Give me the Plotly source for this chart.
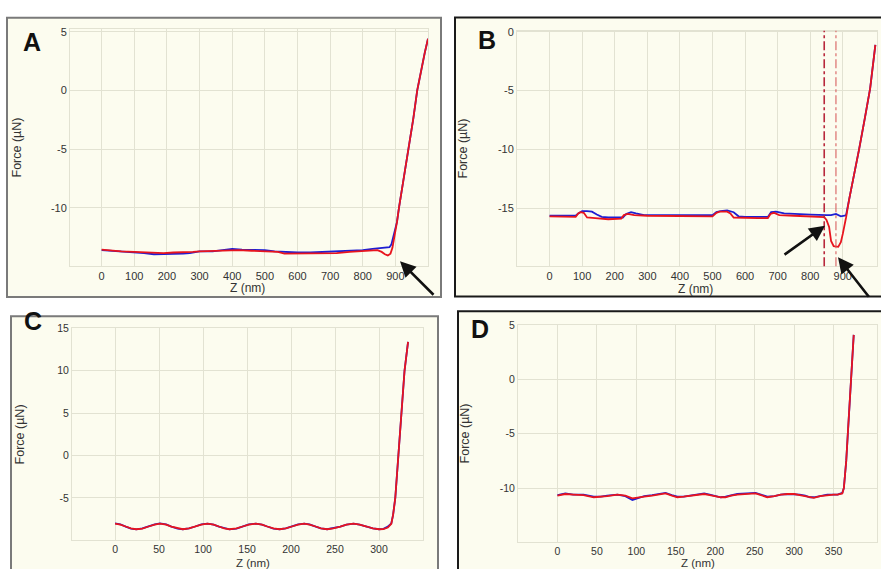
import plotly.graph_objects as go

# ---------------- DATA ----------------
# Panel A
A_z_app = [0, 30, 60, 100, 130, 160, 190, 220, 250, 270, 300, 340, 380, 400, 430, 470, 500, 530, 560, 600,
           640, 680, 720, 760, 800, 830, 850, 870, 882, 888, 895, 905, 911, 925, 941, 955, 967, 980, 990, 1000]
A_f_app = [-13.6, -13.65, -13.7, -13.8, -13.85, -13.95, -13.95, -13.95, -13.9, -13.85, -13.7, -13.7, -13.6, -13.5,
           -13.55, -13.55, -13.6, -13.7, -13.75, -13.8, -13.8, -13.75, -13.75, -13.7, -13.6, -13.5, -13.45, -13.4,
           -13.35, -13.1, -12.4, -11.2, -10.0, -7.6, -5.0, -2.4, 0.0, 1.9, 3.2, 4.4]
A_z_ret = [0, 30, 60, 100, 130, 160, 190, 220, 250, 280, 300, 340, 380, 420, 460, 500, 540, 560, 600, 640,
           680, 720, 760, 800, 830, 845, 858, 868, 877, 885, 891, 898, 905, 911, 925, 941, 955, 967, 980, 990, 1000]
A_f_ret = [-13.55, -13.65, -13.7, -13.75, -13.8, -13.8, -13.85, -13.8, -13.8, -13.75, -13.7, -13.65, -13.65, -13.6,
           -13.65, -13.7, -13.75, -13.9, -13.9, -13.9, -13.9, -13.85, -13.75, -13.65, -13.6, -13.6, -13.75, -13.95,
           -14.05, -13.9, -13.4, -12.4, -11.2, -10.0, -7.6, -5.0, -2.4, 0.0, 1.9, 3.2, 4.4]

# Panel B
B_z_app = [0, 40, 80, 88, 100, 115, 130, 145, 160, 180, 200, 225, 235, 250, 265, 290, 350, 420, 500, 512, 525,
           545, 565, 580, 600, 640, 670, 680, 695, 720, 750, 800, 850, 864, 879, 894, 905, 910, 920, 935, 950,
           968, 984, 1000]
B_f_app = [-15.65, -15.65, -15.65, -15.45, -15.25, -15.25, -15.3, -15.55, -15.75, -15.8, -15.8, -15.8, -15.5,
           -15.35, -15.45, -15.6, -15.6, -15.6, -15.6, -15.35, -15.25, -15.2, -15.35, -15.7, -15.75, -15.75,
           -15.75, -15.35, -15.3, -15.45, -15.5, -15.55, -15.6, -15.6, -15.5, -15.7, -15.65, -15.6, -14.2, -12.2,
           -10.0, -7.3, -4.8, -1.1]
B_z_ret = [0, 40, 80, 88, 95, 105, 115, 140, 180, 220, 228, 240, 260, 300, 400, 500, 512, 522, 545, 555, 565,
           600, 640, 670, 678, 688, 705, 750, 800, 843, 850, 858, 864, 872, 886, 894, 900, 905, 910, 920, 935,
           950, 968, 984, 1000]
B_f_ret = [-15.7, -15.7, -15.75, -15.45, -15.35, -15.4, -15.8, -15.85, -15.95, -15.9, -15.6, -15.5, -15.6,
           -15.65, -15.65, -15.7, -15.4, -15.3, -15.3, -15.45, -15.8, -15.85, -15.85, -15.85, -15.5, -15.4,
           -15.6, -15.65, -15.7, -15.76, -16.0, -16.6, -17.8, -18.25, -18.3, -17.9, -17.2, -16.6, -15.8, -14.2,
           -12.2, -10.0, -7.3, -4.8, -1.1]
B_marks = [843, 879]

# Panel C
C_z = [0, 6, 12, 18, 24, 31, 38, 45, 51, 58, 64, 71, 77, 84, 91, 98, 105, 112, 118, 124, 130, 138, 145, 152,
       160, 167, 173, 180, 187, 194, 201, 208, 215, 221, 228, 234, 241, 248, 256, 263, 271, 278, 286, 293, 300,
       305, 310, 314, 316, 318.5, 322, 325.5, 329, 333]
C_f_app = [-8.0, -8.12, -8.4, -8.62, -8.72, -8.6, -8.36, -8.12, -8.02, -8.14, -8.4, -8.62, -8.7, -8.6, -8.38,
           -8.12, -8.03, -8.15, -8.4, -8.6, -8.72, -8.62, -8.36, -8.14, -8.04, -8.16, -8.38, -8.62, -8.7, -8.6,
           -8.36, -8.14, -8.03, -8.14, -8.4, -8.6, -8.7, -8.6, -8.4, -8.16, -8.05, -8.15, -8.38, -8.6, -8.7,
           -8.65, -8.4, -8.0, -7.0, -5.0, 0.0, 5.0, 10.0, 13.4]
C_f_ret = [-8.05, -8.15, -8.38, -8.6, -8.7, -8.62, -8.38, -8.15, -8.05, -8.15, -8.38, -8.6, -8.7, -8.6, -8.38,
           -8.15, -8.05, -8.15, -8.38, -8.6, -8.7, -8.6, -8.38, -8.15, -8.05, -8.15, -8.38, -8.6, -8.7, -8.6,
           -8.38, -8.15, -8.05, -8.15, -8.38, -8.6, -8.7, -8.6, -8.38, -8.15, -8.05, -8.15, -8.38, -8.6, -8.7,
           -8.68, -8.5, -8.05, -7.0, -5.0, 0.0, 5.0, 10.0, 13.4]

# Panel D
D_z = [0, 10, 20, 33, 46, 55, 63, 76, 86, 95, 103, 110, 120, 127, 137, 145, 152, 160, 169, 178, 186, 193, 200,
       207, 213, 220, 228, 240, 251, 258, 266, 275, 283, 292, 300, 307, 314, 320, 325, 333, 342, 350, 355, 361,
       363, 366, 368, 370, 372, 374, 375.5]
D_f_app = [-10.65, -10.5, -10.6, -10.6, -10.8, -10.8, -10.7, -10.6, -10.75, -11.1, -10.9, -10.75, -10.65, -10.55,
           -10.45, -10.65, -10.8, -10.8, -10.7, -10.6, -10.5, -10.6, -10.7, -10.85, -10.8, -10.7, -10.55, -10.5,
           -10.45, -10.6, -10.8, -10.75, -10.6, -10.55, -10.55, -10.6, -10.7, -10.85, -10.85, -10.7, -10.6,
           -10.6, -10.6, -10.45, -10.0, -7.5, -5.0, -2.5, 0.0, 2.5, 4.1]
D_f_ret = [-10.7, -10.55, -10.6, -10.65, -10.85, -10.8, -10.75, -10.6, -10.7, -10.95, -10.9, -10.8, -10.7, -10.6,
           -10.5, -10.7, -10.85, -10.8, -10.7, -10.6, -10.55, -10.65, -10.75, -10.85, -10.85, -10.7, -10.6,
           -10.55, -10.5, -10.65, -10.85, -10.75, -10.6, -10.55, -10.55, -10.65, -10.75, -10.85, -10.9, -10.75,
           -10.65, -10.6, -10.6, -10.5, -10.0, -7.5, -5.0, -2.5, 0.0, 2.5, 4.1]

# Tick labels
A_xticks = [0, 100, 200, 300, 400, 500, 600, 700, 800, 900]
A_yticks = [5, 0, -5, -10]
B_xticks = [0, 100, 200, 300, 400, 500, 600, 700, 800, 900]
B_yticks = [0, -5, -10, -15]
C_xticks = [0, 50, 100, 150, 200, 250, 300]
C_yticks = [15, 10, 5, 0, -5]
D_xticks = [0, 50, 100, 150, 200, 250, 300, 350]
D_yticks = [5, 0, -5, -10]

# ---------------- LAYOUT HELPERS ----------------
W, H = 881, 569
def fx(p): return p / W
def fy(p): return 1 - p / H

BG = "#FCFCEF"
GRID = "#E2E2D2"
BLUE = "#1E1ED2"
RED = "#E8141E"

panels = [
    ("1", 70, 428, 23, 263, [-97, 1000], [-14.97, 5.25], A_xticks, A_yticks, 11),
    ("2", 517, 877, 25, 263, [-100, 1005], [-19.95, 0.1], B_xticks, B_yticks, 11),
    ("3", 72, 423, 325, 539.5, [-49, 350], [-9.95, 15.1], C_xticks, C_yticks, 10.5),
    ("4", 518, 877, 322, 541.5, [-50, 405], [-14.95, 5.05], D_xticks, D_yticks, 10.5),
]

fig = go.Figure()
data = [
    ((A_z_app, A_f_app), (A_z_ret, A_f_ret)),
    ((B_z_app, B_f_app), (B_z_ret, B_f_ret)),
    ((C_z, C_f_app), (C_z, C_f_ret)),
    ((D_z, D_f_app), (D_z, D_f_ret)),
]

layout = dict(width=W, height=H, margin=dict(l=0, r=0, t=0, b=0), paper_bgcolor="white",
              plot_bgcolor=BG, showlegend=False)

for (name, l, r, t, b, xr, yr, xt, yt, fs), (app, ret) in zip(panels, data):
    tf = dict(family="Liberation Sans, Arial", size=fs, color="#333")
    xa = "xaxis" if name == "1" else "xaxis" + name
    ya = "yaxis" if name == "1" else "yaxis" + name
    xs = "x" if name == "1" else "x" + name
    ys = "y" if name == "1" else "y" + name
    layout[xa] = dict(domain=[fx(l), fx(r)], range=xr, anchor=ys, tickvals=xt, ticktext=[str(v) for v in xt],
                      showgrid=True, gridcolor=GRID, gridwidth=1, zeroline=False, showline=True,
                      linecolor=GRID, mirror=True, ticks="", tickfont=tf, fixedrange=True)
    layout[ya] = dict(domain=[fy(b), fy(t)], range=yr, anchor=xs, tickvals=yt, ticktext=[str(v) for v in yt],
                      showgrid=True, gridcolor=GRID, gridwidth=1, zeroline=False, showline=True,
                      linecolor=GRID, mirror=True, ticks="", tickfont=tf, fixedrange=True)
    fig.add_trace(go.Scatter(x=app[0], y=app[1], mode="lines", line=dict(color=BLUE, width=1.8),
                             xaxis=xs, yaxis=ys))
    fig.add_trace(go.Scatter(x=ret[0], y=ret[1], mode="lines", line=dict(color=RED, width=1.8),
                             xaxis=xs, yaxis=ys))

# frames
frames = [
    (7, 12, 441, 294, "#7A7A7A"),
    (455, 11.5, 895, 293.5, "#1A1A1A"),
    (11, 313.5, 438, 590, "#7A7A7A"),
    (458, 308.5, 895, 590, "#1A1A1A"),
]
shapes = []
for x0, y0, x1, y1, col in frames:
    shapes.append(dict(type="rect", xref="paper", yref="paper", x0=fx(x0), x1=fx(x1), y0=fy(y1), y1=fy(y0),
                       fillcolor=BG, line=dict(color=col, width=2), layer="below"))
for z, col, w in zip(B_marks, ["#B8283C", "#D86060"], [1.6, 1.1]):
    shapes.append(dict(type="line", xref="x2", yref="y2 domain", x0=z, x1=z, y0=0, y1=1,
                       line=dict(color=col, width=w, dash="dashdot"), layer="above"))
layout["shapes"] = shapes

ann = []
TF = dict(family="Liberation Sans, Arial", size=12.5, color="#333")
for txt, x, y in [("A", 31.5, 36), ("B", 487, 34), ("C", 33, 318), ("D", 479.5, 326)]:
    ann.append(dict(text="<b>%s</b>" % txt, x=fx(x), y=fy(y), xref="paper", yref="paper", showarrow=False,
                    xanchor="center", yanchor="middle",
                    font=dict(family="Liberation Sans, Arial", size=25, color="#111")))
for x, y in [(17, 143), (463, 144), (20, 433), (465, 432)]:
    ann.append(dict(text="Force (µN)", x=fx(x), y=fy(y), xref="paper", yref="paper", showarrow=False,
                    textangle=-90, xanchor="center", yanchor="middle", font=TF))
for x, y, s in [(247, 285, 12), (695, 286, 12), (253, 563, 11.5), (698, 563, 11.5)]:
    ann.append(dict(text="Z (nm)", x=fx(x), y=fy(y), xref="paper", yref="paper", showarrow=False,
                    xanchor="center", yanchor="middle",
                    font=dict(family="Liberation Sans, Arial", size=s, color="#333")))
for tx, ty, ax, ay in [(400, 258, 35, 35), (825, 222, -42, 30), (838, 254, 32, 41)]:
    ann.append(dict(text="", x=fx(tx), y=fy(ty), xref="paper", yref="paper", showarrow=True, ax=ax, ay=ay,
                    arrowhead=2, arrowsize=1.2, arrowwidth=2.6, arrowcolor="#111"))
layout["annotations"] = ann

fig.update_layout(**layout)
fig.write_html(
    "out.html",
    config={"displayModeBar": False},
    post_script=(
        "document.body.style.margin='0';document.body.style.padding='0';"
        "document.body.style.overflow='hidden';"
        "var d=document.getElementById('{plot_id}');"
        "d.style.position='absolute';d.style.left='0px';d.style.top='0px';"
    ),
)
